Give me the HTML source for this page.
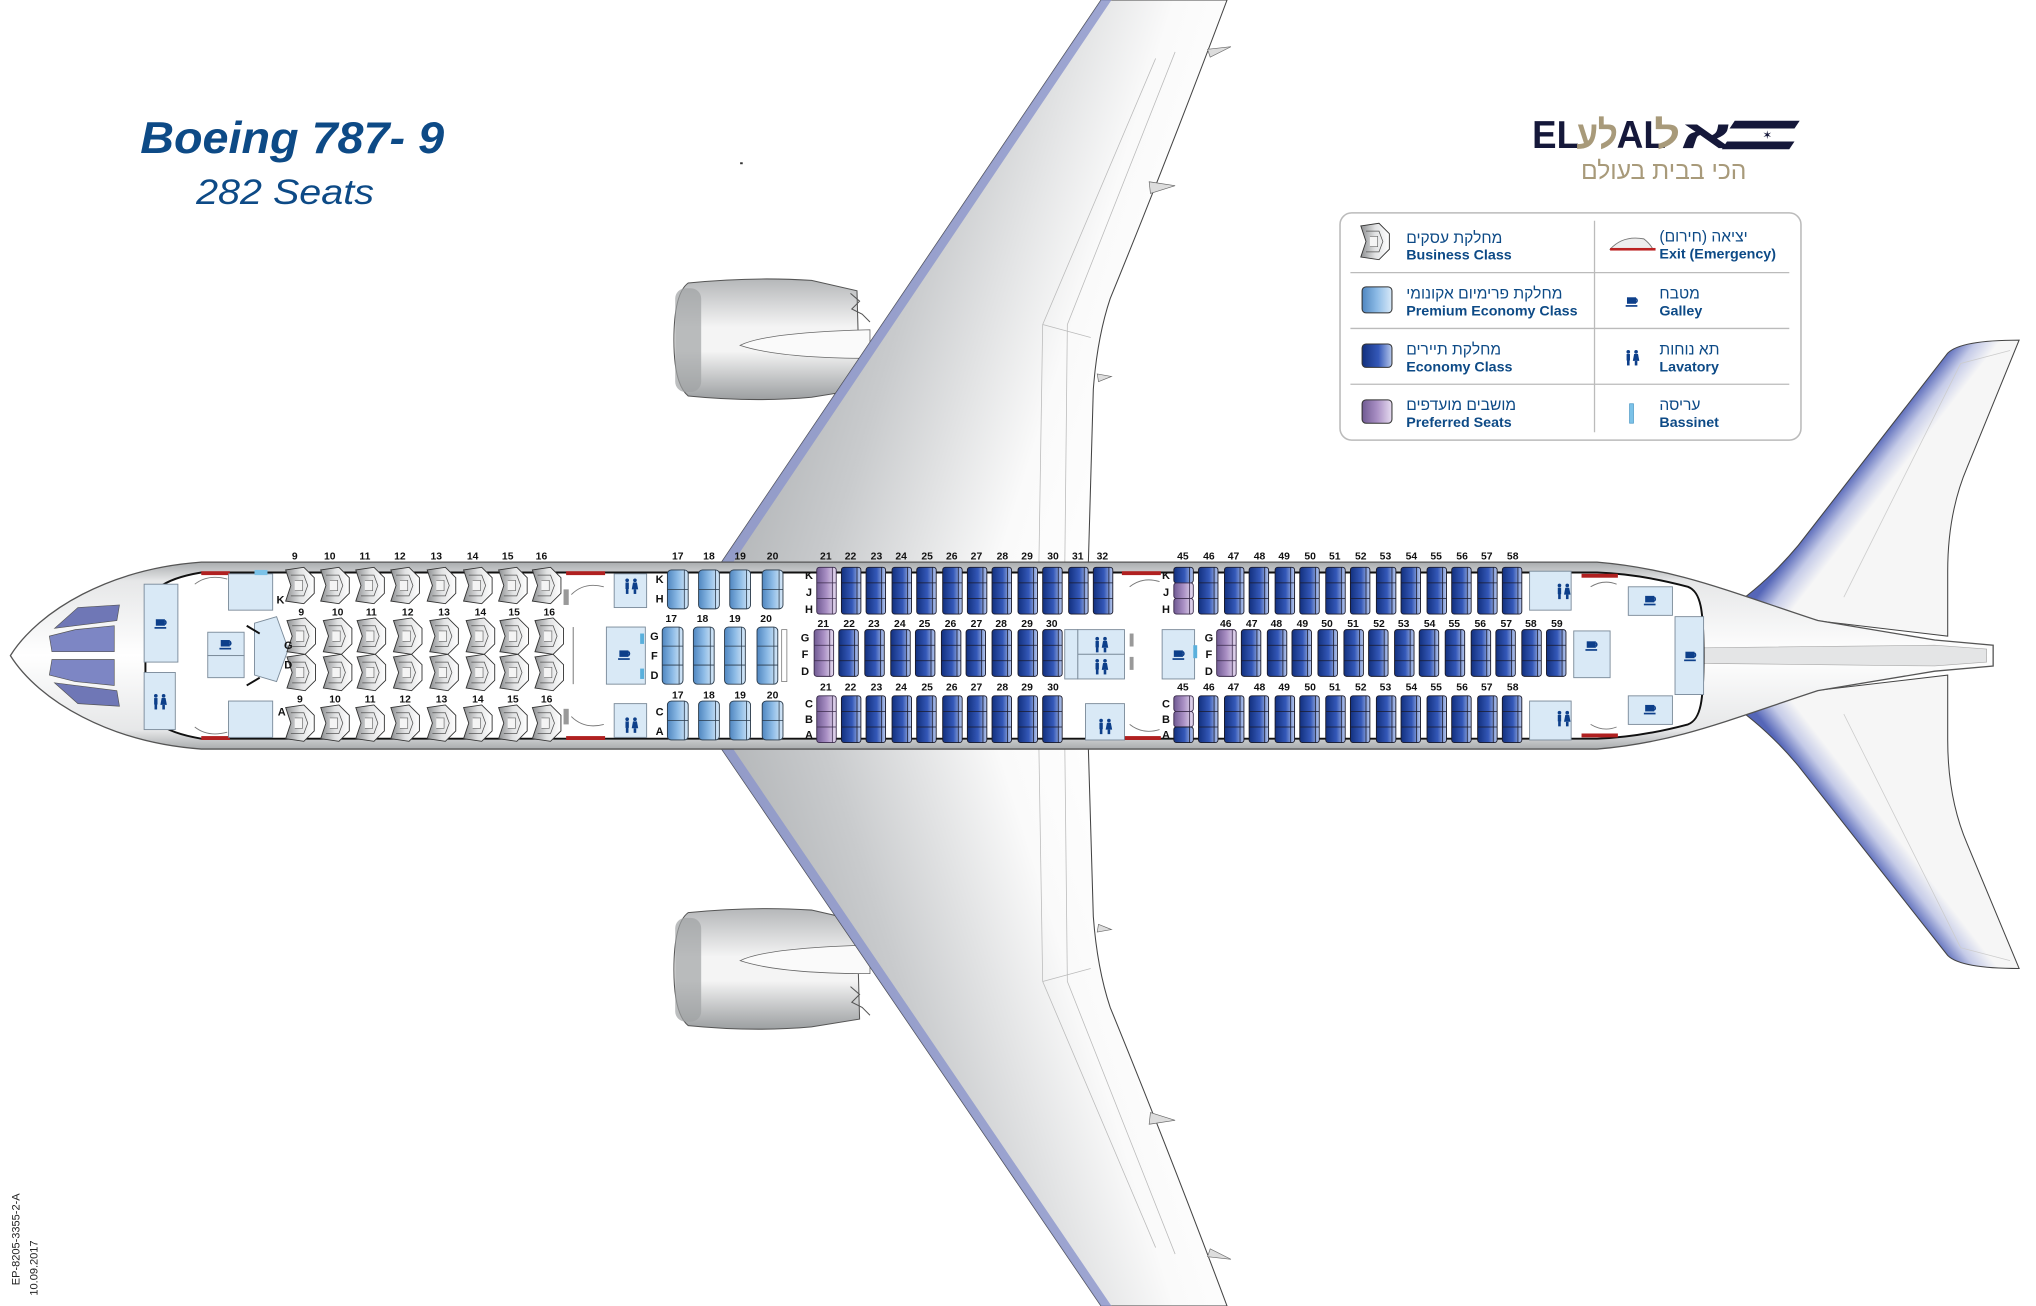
<!DOCTYPE html>
<html><head><meta charset="utf-8"><style>
html,body{margin:0;padding:0;background:#fff;}
svg{display:block;}
text{font-family:"Liberation Sans","DejaVu Sans",sans-serif;}
.n{font-size:8px;font-weight:bold;fill:#111;text-anchor:middle;}
.l{font-size:8.5px;font-weight:bold;fill:#111;text-anchor:middle;}
.lh{font-size:12px;fill:#0d4a86;}
.le{font-size:11px;font-weight:bold;fill:#0d4a86;}
.lg{font-size:30px;font-weight:900;}
</style></head><body>
<svg width="2036" height="1306" viewBox="0 0 1568 1006" preserveAspectRatio="none" xmlns="http://www.w3.org/2000/svg">
<defs>
<linearGradient id="wing" x1="0" y1="0" x2="1" y2="0.35"><stop offset="0" stop-color="#8f9396"/><stop offset="0.5" stop-color="#c9cbcd"/><stop offset="0.8" stop-color="#fafafa"/><stop offset="1" stop-color="#ffffff"/></linearGradient>
<linearGradient id="wing2" x1="0" y1="1" x2="1" y2="0.65"><stop offset="0" stop-color="#8f9396"/><stop offset="0.5" stop-color="#c9cbcd"/><stop offset="0.8" stop-color="#fafafa"/><stop offset="1" stop-color="#ffffff"/></linearGradient>
<linearGradient id="fus" x1="0" y1="0" x2="0" y2="1"><stop offset="0" stop-color="#a9acae"/><stop offset="0.1" stop-color="#e6e7e8"/><stop offset="0.5" stop-color="#ffffff"/><stop offset="0.9" stop-color="#e6e7e8"/><stop offset="1" stop-color="#a9acae"/></linearGradient>
<linearGradient id="eng" x1="0" y1="0" x2="0" y2="1"><stop offset="0" stop-color="#b5b7b9"/><stop offset="0.4" stop-color="#f4f4f4"/><stop offset="0.6" stop-color="#f4f4f4"/><stop offset="1" stop-color="#9c9fa1"/></linearGradient>
<linearGradient id="gB" x1="0" y1="0" x2="1" y2="0"><stop offset="0" stop-color="#12307e"/><stop offset="0.55" stop-color="#3458b8"/><stop offset="1" stop-color="#b7c8ec"/></linearGradient>
<linearGradient id="gP" x1="0" y1="0" x2="1" y2="0"><stop offset="0" stop-color="#6f5a92"/><stop offset="0.5" stop-color="#a98fc4"/><stop offset="1" stop-color="#e6dcf0"/></linearGradient>
<linearGradient id="gL" x1="0" y1="0" x2="1" y2="0"><stop offset="0" stop-color="#4f86c0"/><stop offset="0.5" stop-color="#8dbbe6"/><stop offset="1" stop-color="#d8e9f8"/></linearGradient>
<linearGradient id="gG" x1="0" y1="0" x2="1" y2="0"><stop offset="0" stop-color="#8d8f91"/><stop offset="0.5" stop-color="#e1e2e3"/><stop offset="1" stop-color="#ffffff"/></linearGradient>
<linearGradient id="stab" gradientUnits="userSpaceOnUse" x1="1430" y1="360" x2="1452" y2="377"><stop offset="0" stop-color="#5566b8"/><stop offset="0.5" stop-color="#c5cbe8"/><stop offset="1" stop-color="#f6f6f6"/></linearGradient>
<linearGradient id="stab2" gradientUnits="userSpaceOnUse" x1="1430" y1="650" x2="1452" y2="633"><stop offset="0" stop-color="#5566b8"/><stop offset="0.5" stop-color="#c5cbe8"/><stop offset="1" stop-color="#f6f6f6"/></linearGradient>
<g id="e3"><rect x="0" y="0" width="15" height="36" rx="2" fill="url(#gB)" stroke="#1a1a2a" stroke-width="0.7"/><path d="M0 12H15M0 24H15M12 0V36" stroke="#1a1a2a" stroke-width="0.6" fill="none"/></g>
<g id="p3"><rect x="0" y="0" width="15" height="36" rx="2" fill="url(#gP)" stroke="#3a2a4a" stroke-width="0.7"/><path d="M0 12H15M0 24H15M12 0V36" stroke="#3a2a4a" stroke-width="0.6" fill="none"/></g>
<g id="e1"><rect x="0" y="0" width="15" height="12" rx="2" fill="url(#gB)" stroke="#1a1a2a" stroke-width="0.7"/><path d="M12 0V12" stroke="#1a1a2a" stroke-width="0.6"/></g>
<g id="p1"><rect x="0" y="0" width="15" height="12" rx="2" fill="url(#gP)" stroke="#3a2a4a" stroke-width="0.7"/><path d="M12 0V12" stroke="#3a2a4a" stroke-width="0.6"/></g>
<g id="m2"><rect x="0" y="0" width="16" height="30" rx="3" fill="url(#gL)" stroke="#2a3a4a" stroke-width="0.7"/><path d="M0 15H16M13 0V30" stroke="#2a3a4a" stroke-width="0.6" fill="none"/></g>
<g id="m3"><rect x="0" y="0" width="16" height="44" rx="3" fill="url(#gL)" stroke="#2a3a4a" stroke-width="0.7"/><path d="M0 14.7H16M0 29.3H16M13 0V44" stroke="#2a3a4a" stroke-width="0.6" fill="none"/></g>
<g id="b"><path d="M0 2 L14 0 L22 8 L22 20 L14 28 L0 26 L4 14 Z" fill="url(#gG)" stroke="#333" stroke-width="0.7"/><path d="M4 6 L14 6 L17 14 L14 22 L4 22" fill="none" stroke="#555" stroke-width="0.6"/><path d="M7 10 L13 10 L13 18 L7 18" fill="#f4f4f4" stroke="#666" stroke-width="0.5"/></g>
<g id="cup"><rect x="-4" y="-3" width="7" height="5" fill="#0d3f8a"/><path d="M3 -2 a1.8 1.8 0 0 1 0 3" fill="none" stroke="#0d3f8a" stroke-width="1.2"/><rect x="-5" y="3" width="9" height="1.3" fill="#0d3f8a"/></g>
<g id="lav"><circle cx="-3" cy="-5" r="1.4" fill="#0d3f8a"/><rect x="-4.3" y="-3.3" width="2.6" height="5" fill="#0d3f8a"/><rect x="-4" y="1.5" width="2" height="4" fill="#0d3f8a"/><circle cx="3" cy="-5" r="1.4" fill="#0d3f8a"/><path d="M1.5 -3.3 H4.5 L5.5 2 H0.5Z" fill="#0d3f8a"/><rect x="2" y="2" width="2" height="3.5" fill="#0d3f8a"/></g>
</defs>

<!-- title -->
<text x="108" y="118" font-size="34" font-weight="bold" font-style="italic" fill="#0d4a86" textLength="234" lengthAdjust="spacingAndGlyphs">Boeing 787- 9</text>
<text x="151" y="157" font-size="27" font-style="italic" fill="#0d4a86" textLength="137" lengthAdjust="spacingAndGlyphs">282 Seats</text>

<!-- logo -->
<text class="lg" x="1180" y="114" fill="#15183a" textLength="36" lengthAdjust="spacingAndGlyphs">EL</text>
<text class="lg" x="1214" y="114" fill="#a89a7a" textLength="32" lengthAdjust="spacingAndGlyphs">לע</text>
<text class="lg" x="1245" y="114" fill="#15183a" textLength="38" lengthAdjust="spacingAndGlyphs">AL</text>
<text class="lg" x="1274" y="114" fill="#a89a7a" textLength="20" lengthAdjust="spacingAndGlyphs">ל</text>
<text class="lg" x="1294" y="114" fill="#15183a" textLength="40" lengthAdjust="spacingAndGlyphs">א</text>
<path d="M1336 93 H1386 L1382 99 H1332Z M1330 109 H1382 L1378 115 H1326Z" fill="#15183a"/>
<text x="1361" y="107" font-size="9" fill="#15183a" text-anchor="middle">✶</text>
<text x="1345" y="138" font-size="19" fill="#a89a7a" text-anchor="end">הכי בבית בעולם</text>

<!-- legend -->
<rect x="1032" y="164" width="355" height="175" rx="9" fill="#fff" stroke="#bbb" stroke-width="1.2"/>
<path d="M1228 170V333 M1040 210H1378 M1040 253H1378 M1040 296H1378" stroke="#bbb" stroke-width="1"/>
<use href="#b" x="1048" y="172"/>
<rect x="1049" y="221" width="23" height="20" rx="3" fill="url(#gL)" stroke="#333" stroke-width="0.8"/>
<rect x="1049" y="265" width="23" height="18" rx="3" fill="url(#gB)" stroke="#333" stroke-width="0.8"/>
<rect x="1049" y="308" width="23" height="18" rx="3" fill="url(#gP)" stroke="#333" stroke-width="0.8"/>
<text class="lh" x="1083" y="187">מחלקת עסקים</text><text class="le" x="1083" y="200">Business Class</text>
<text class="lh" x="1083" y="230">מחלקת פרימיום אקונומי</text><text class="le" x="1083" y="243">Premium Economy Class</text>
<text class="lh" x="1083" y="273">מחלקת תיירים</text><text class="le" x="1083" y="286">Economy Class</text>
<text class="lh" x="1083" y="316">מושבים מועדפים</text><text class="le" x="1083" y="329">Preferred Seats</text>
<path d="M1240 192 Q1250 181 1266 184 Q1271 188 1273 192Z" fill="#eee" stroke="#777" stroke-width="0.7"/><rect x="1240" y="191" width="35" height="2" fill="#b22"/>
<use href="#cup" x="1257" y="232"/>
<use href="#lav" x="1257" y="276"/>
<rect x="1255" y="311" width="3" height="15" fill="#7bc2e8" stroke="#3a8fc0" stroke-width="0.5"/>
<text class="lh" x="1278" y="186">יציאה (חירום)</text><text class="le" x="1278" y="199">Exit (Emergency)</text>
<text class="lh" x="1278" y="230">מטבח</text><text class="le" x="1278" y="243">Galley</text>
<text class="lh" x="1278" y="273">תא נוחות</text><text class="le" x="1278" y="286">Lavatory</text>
<text class="lh" x="1278" y="316">עריסה</text><text class="le" x="1278" y="329">Bassinet</text>

<!-- engines -->
<g>
<path d="M530 218 Q580 213 625 216 L660 224 L662 300 L625 306 Q580 310 530 305 Q519 296 519 262 Q519 226 530 218Z" fill="url(#eng)" stroke="#555" stroke-width="0.8"/>
<rect x="520" y="222" width="20" height="80" rx="8" fill="#9fa2a4" opacity="0.7"/>
<path d="M570 266 Q590 256 670 254 L670 276 Q600 276 570 266Z" fill="#fafafa" stroke="#666" stroke-width="0.6"/>
<path d="M655 226 L662 232 L656 238 L664 242 L670 248" fill="none" stroke="#555" stroke-width="0.8"/>
</g>
<g>
<path d="M530 703 Q580 698 625 701 L660 709 L662 785 L625 791 Q580 795 530 790 Q519 781 519 747 Q519 711 530 703Z" fill="url(#eng)" stroke="#555" stroke-width="0.8"/>
<rect x="520" y="707" width="20" height="80" rx="8" fill="#9fa2a4" opacity="0.7"/>
<path d="M570 740 Q590 730 670 728 L670 750 Q600 750 570 740Z" fill="#fafafa" stroke="#666" stroke-width="0.6"/>
<path d="M655 760 L662 766 L656 772 L664 776 L670 782" fill="none" stroke="#555" stroke-width="0.8"/>
</g>

<!-- wings -->
<path d="M551 440 L848 0 L945 0 Q900 120 855 230 Q845 260 842 300 L838 440Z" fill="url(#wing)" stroke="#444" stroke-width="0.8"/>
<path d="M551 440 L848 0 L856 0 L560 440Z" fill="#8b95cc" opacity="0.8"/>
<path d="M800 440 L803 250 L890 45 M820 440 L822 250 L905 40 M803 250 L840 260" fill="none" stroke="#bbb" stroke-width="0.6"/>
<path d="M551 570 L848 1006 L945 1006 Q900 886 855 776 Q845 746 842 706 L838 570Z" fill="url(#wing2)" stroke="#444" stroke-width="0.8"/>
<path d="M551 570 L848 1006 L856 1006 L560 570Z" fill="#8b95cc" opacity="0.8"/>
<path d="M800 570 L803 756 L890 961 M820 570 L822 756 L905 966 M803 756 L840 746" fill="none" stroke="#bbb" stroke-width="0.6"/>
<path d="M930 38 L948 36 L932 44Z M885 140 L905 143 L886 149Z M845 288 L856 290 L846 294Z" fill="#ddd" stroke="#666" stroke-width="0.5"/>
<path d="M930 968 L948 970 L932 962Z M885 866 L905 863 L886 857Z M845 718 L856 716 L846 712Z" fill="#ddd" stroke="#666" stroke-width="0.5"/>

<!-- stabilizers -->
<path d="M1330 470 Q1360 450 1385 420 L1500 272 Q1510 262 1555 262 L1515 360 Q1500 395 1500 440 L1500 490Z" fill="url(#stab)" stroke="#444" stroke-width="0.8"/>
<path d="M1330 540 Q1360 560 1385 590 L1500 736 Q1510 746 1555 746 L1515 650 Q1500 615 1500 570 L1500 520Z" fill="url(#stab2)" stroke="#444" stroke-width="0.8"/>
<path d="M1420 460 L1510 280 L1548 270 M1420 550 L1510 730 L1548 740" fill="none" stroke="#ccc" stroke-width="0.6"/>

<!-- fuselage -->
<path d="M8 505 C30 470 85 438 155 433 L1230 433 C1290 438 1330 455 1400 478 L1490 493 L1535 497 L1535 513 L1490 517 L1400 532 C1330 555 1290 572 1230 577 L155 577 C85 572 30 540 8 505Z" fill="url(#fus)" stroke="#555" stroke-width="1"/>
<path d="M1312 499 L1490 497 L1530 500 L1530 510 L1490 513 L1312 511Z" fill="#e4e5e6" stroke="#aaa" stroke-width="0.5"/>
<!-- cockpit windows -->
<path d="M42 484 L60 468 L92 466 L90 478 L58 482Z M42 526 L60 542 L92 544 L90 532 L58 528Z" fill="#6f77b6" stroke="#555" stroke-width="0.5"/>
<path d="M38 490 L58 485 L88 482 L88 502 L40 502Z M38 520 L58 525 L88 528 L88 508 L40 508Z" fill="#7d86c4" stroke="#555" stroke-width="0.5"/>
<!-- cabin interior -->
<path d="M112 478 C112 455 125 446 155 441 L1230 441 C1260 442 1285 448 1300 452 C1310 456 1312 470 1312 505 C1312 540 1310 554 1300 558 C1285 562 1260 568 1230 569 L155 569 C125 564 112 555 112 532Z" fill="#fff" stroke="#111" stroke-width="1.5"/>

<!-- exits (red) -->
<g fill="#b02020">
<rect x="155" y="440" width="22" height="3"/><rect x="155" y="567" width="22" height="3"/>
<rect x="436" y="440" width="30" height="3"/><rect x="436" y="567" width="30" height="3"/>
<rect x="864" y="440" width="30" height="3"/><rect x="864" y="567" width="30" height="3"/>
<rect x="1218" y="442" width="28" height="3"/><rect x="1218" y="565" width="28" height="3"/>
</g>
<g fill="none" stroke="#777" stroke-width="0.7">
<path d="M150 450 Q160 442 175 446 M440 458 Q450 448 465 452 M870 452 Q880 444 893 448 M1225 452 Q1235 446 1245 450"/>
<path d="M150 560 Q160 568 175 564 M440 552 Q450 562 465 558 M870 558 Q880 566 893 562 M1225 558 Q1235 564 1245 560"/>
</g>

<!-- front galley/lav -->
<g fill="#d9e9f6" stroke="#7a8a99" stroke-width="0.7">
<rect x="111" y="450" width="26" height="60"/><rect x="111" y="518" width="24" height="44"/>
<rect x="176" y="442" width="34" height="28"/><rect x="176" y="540" width="34" height="28"/>
<rect x="160" y="487" width="28" height="18"/><rect x="160" y="505" width="28" height="17"/>
<path d="M196 480 L213 475 L222 500 L213 525 L196 520Z"/>
<rect x="467" y="483" width="30" height="44"/>
<rect x="473" y="442" width="25" height="26"/><rect x="473" y="542" width="25" height="26"/>
<rect x="830" y="485" width="36" height="19"/><rect x="830" y="504" width="36" height="19"/><rect x="820" y="485" width="10" height="38"/>
<rect x="836" y="542" width="30" height="28"/>
<rect x="895" y="485" width="25" height="38"/>
<rect x="1178" y="440" width="32" height="30"/><rect x="1178" y="540" width="32" height="30"/>
<rect x="1212" y="486" width="28" height="36"/>
<rect x="1254" y="452" width="34" height="22"/><rect x="1254" y="536" width="34" height="22"/>
<rect x="1290" y="475" width="22" height="60"/>
</g>
<rect x="196" y="439" width="10" height="4" fill="#7bc2e8"/>
<path d="M190 482 L200 488 M190 528 L200 522" stroke="#111" stroke-width="1.5"/>
<rect x="434" y="454" width="4" height="12" fill="#999"/><rect x="434" y="546" width="4" height="12" fill="#999"/>
<rect x="493" y="488" width="3" height="8" fill="#5ab0dc"/><rect x="493" y="515" width="3" height="8" fill="#5ab0dc"/>
<rect x="870" y="488" width="3" height="10" fill="#999"/><rect x="870" y="506" width="3" height="10" fill="#999"/>
<rect x="919" y="497" width="3" height="10" fill="#5ab0dc"/>
<use href="#cup" x="124" y="480"/><use href="#cup" x="174" y="496"/><use href="#cup" x="481" y="504"/>
<use href="#cup" x="908" y="504"/><use href="#cup" x="1226" y="497"/><use href="#cup" x="1271" y="462"/><use href="#cup" x="1271" y="546"/><use href="#cup" x="1302" y="505"/>
<use href="#lav" x="123" y="541"/><use href="#lav" x="486" y="452"/><use href="#lav" x="486" y="559"/>
<use href="#lav" x="848" y="497"/><use href="#lav" x="848" y="514"/><use href="#lav" x="851" y="560"/>
<use href="#lav" x="1204" y="456"/><use href="#lav" x="1204" y="554"/>

<!-- business seats -->
<g>
<use href="#b" x="220" y="437"/><use href="#b" x="247" y="437"/><use href="#b" x="274" y="437"/><use href="#b" x="301" y="437"/><use href="#b" x="329" y="437"/><use href="#b" x="357" y="437"/><use href="#b" x="384" y="437"/><use href="#b" x="410" y="437"/>
<use href="#b" x="221" y="476"/><use href="#b" x="249" y="476"/><use href="#b" x="275" y="476"/><use href="#b" x="303" y="476"/><use href="#b" x="331" y="476"/><use href="#b" x="359" y="476"/><use href="#b" x="385" y="476"/><use href="#b" x="412" y="476"/>
<use href="#b" x="221" y="504"/><use href="#b" x="249" y="504"/><use href="#b" x="275" y="504"/><use href="#b" x="303" y="504"/><use href="#b" x="331" y="504"/><use href="#b" x="359" y="504"/><use href="#b" x="385" y="504"/><use href="#b" x="412" y="504"/>
<use href="#b" x="220" y="543"/><use href="#b" x="247" y="543"/><use href="#b" x="274" y="543"/><use href="#b" x="301" y="543"/><use href="#b" x="329" y="543"/><use href="#b" x="357" y="543"/><use href="#b" x="384" y="543"/><use href="#b" x="410" y="543"/>
</g>
<g class="n">
<text class="n" x="227" y="431">9</text><text class="n" x="254" y="431">10</text><text class="n" x="281" y="431">11</text><text class="n" x="308" y="431">12</text><text class="n" x="336" y="431">13</text><text class="n" x="364" y="431">14</text><text class="n" x="391" y="431">15</text><text class="n" x="417" y="431">16</text>
<text class="n" x="232" y="474">9</text><text class="n" x="260" y="474">10</text><text class="n" x="286" y="474">11</text><text class="n" x="314" y="474">12</text><text class="n" x="342" y="474">13</text><text class="n" x="370" y="474">14</text><text class="n" x="396" y="474">15</text><text class="n" x="423" y="474">16</text>
<text class="n" x="231" y="541">9</text><text class="n" x="258" y="541">10</text><text class="n" x="285" y="541">11</text><text class="n" x="312" y="541">12</text><text class="n" x="340" y="541">13</text><text class="n" x="368" y="541">14</text><text class="n" x="395" y="541">15</text><text class="n" x="421" y="541">16</text>
</g>
<text class="l" x="216" y="465">K</text><text class="l" x="222" y="500">G</text><text class="l" x="222" y="515">D</text><text class="l" x="217" y="551">A</text>
<rect x="441" y="483" width="1" height="44" fill="#999"/>

<!-- premium seats -->
<use href="#m2" x="514" y="439"/><use href="#m2" x="538" y="439"/><use href="#m2" x="562" y="439"/><use href="#m2" x="587" y="439"/>
<use href="#m3" x="510" y="483"/><use href="#m3" x="534" y="483"/><use href="#m3" x="558" y="483"/><use href="#m3" x="583" y="483"/>
<use href="#m2" x="514" y="540"/><use href="#m2" x="538" y="540"/><use href="#m2" x="562" y="540"/><use href="#m2" x="587" y="540"/>
<rect x="602" y="485" width="4" height="40" fill="none" stroke="#777" stroke-width="0.6"/>
<text class="n" x="522" y="431">17</text><text class="n" x="546" y="431">18</text><text class="n" x="570" y="431">19</text><text class="n" x="595" y="431">20</text>
<text class="n" x="517" y="479">17</text><text class="n" x="541" y="479">18</text><text class="n" x="566" y="479">19</text><text class="n" x="590" y="479">20</text>
<text class="n" x="522" y="538">17</text><text class="n" x="546" y="538">18</text><text class="n" x="570" y="538">19</text><text class="n" x="595" y="538">20</text>
<text class="l" x="508" y="449">K</text><text class="l" x="508" y="464">H</text>
<text class="l" x="504" y="493">G</text><text class="l" x="504" y="508">F</text><text class="l" x="504" y="523">D</text>
<text class="l" x="508" y="551">C</text><text class="l" x="508" y="566">A</text>

<!-- economy forward -->
<use href="#p3" x="629" y="437"/><use href="#e3" x="648" y="437"/><use href="#e3" x="667" y="437"/><use href="#e3" x="687" y="437"/><use href="#e3" x="706" y="437"/><use href="#e3" x="726" y="437"/><use href="#e3" x="745" y="437"/><use href="#e3" x="764" y="437"/><use href="#e3" x="784" y="437"/><use href="#e3" x="803" y="437"/><use href="#e3" x="823" y="437"/><use href="#e3" x="842" y="437"/>
<use href="#p3" x="627" y="485"/><use href="#e3" x="646" y="485"/><use href="#e3" x="666" y="485"/><use href="#e3" x="686" y="485"/><use href="#e3" x="705" y="485"/><use href="#e3" x="725" y="485"/><use href="#e3" x="744" y="485"/><use href="#e3" x="764" y="485"/><use href="#e3" x="784" y="485"/><use href="#e3" x="803" y="485"/>
<use href="#p3" x="629" y="536"/><use href="#e3" x="648" y="536"/><use href="#e3" x="667" y="536"/><use href="#e3" x="687" y="536"/><use href="#e3" x="706" y="536"/><use href="#e3" x="726" y="536"/><use href="#e3" x="745" y="536"/><use href="#e3" x="764" y="536"/><use href="#e3" x="784" y="536"/><use href="#e3" x="803" y="536"/>
<text class="n" x="636" y="431">21</text><text class="n" x="655" y="431">22</text><text class="n" x="675" y="431">23</text><text class="n" x="694" y="431">24</text><text class="n" x="714" y="431">25</text><text class="n" x="733" y="431">26</text><text class="n" x="752" y="431">27</text><text class="n" x="772" y="431">28</text><text class="n" x="791" y="431">29</text><text class="n" x="811" y="431">30</text><text class="n" x="830" y="431">31</text><text class="n" x="849" y="431">32</text>
<text class="n" x="634" y="483">21</text><text class="n" x="654" y="483">22</text><text class="n" x="673" y="483">23</text><text class="n" x="693" y="483">24</text><text class="n" x="712" y="483">25</text><text class="n" x="732" y="483">26</text><text class="n" x="752" y="483">27</text><text class="n" x="771" y="483">28</text><text class="n" x="791" y="483">29</text><text class="n" x="810" y="483">30</text>
<text class="n" x="636" y="532">21</text><text class="n" x="655" y="532">22</text><text class="n" x="675" y="532">23</text><text class="n" x="694" y="532">24</text><text class="n" x="714" y="532">25</text><text class="n" x="733" y="532">26</text><text class="n" x="752" y="532">27</text><text class="n" x="772" y="532">28</text><text class="n" x="791" y="532">29</text><text class="n" x="811" y="532">30</text>
<text class="l" x="623" y="446">K</text><text class="l" x="623" y="459">J</text><text class="l" x="623" y="472">H</text>
<text class="l" x="620" y="494">G</text><text class="l" x="620" y="507">F</text><text class="l" x="620" y="520">D</text>
<text class="l" x="623" y="545">C</text><text class="l" x="623" y="557">B</text><text class="l" x="623" y="569">A</text>

<!-- economy rear -->
<use href="#e1" x="904" y="437"/><use href="#p1" x="904" y="449"/><use href="#p1" x="904" y="461"/>
<use href="#e3" x="923" y="437"/><use href="#e3" x="943" y="437"/><use href="#e3" x="962" y="437"/><use href="#e3" x="982" y="437"/><use href="#e3" x="1001" y="437"/><use href="#e3" x="1021" y="437"/><use href="#e3" x="1040" y="437"/><use href="#e3" x="1060" y="437"/><use href="#e3" x="1079" y="437"/><use href="#e3" x="1099" y="437"/><use href="#e3" x="1118" y="437"/><use href="#e3" x="1138" y="437"/><use href="#e3" x="1157" y="437"/>
<use href="#p3" x="937" y="485"/><use href="#e3" x="956" y="485"/><use href="#e3" x="976" y="485"/><use href="#e3" x="995" y="485"/><use href="#e3" x="1015" y="485"/><use href="#e3" x="1035" y="485"/><use href="#e3" x="1054" y="485"/><use href="#e3" x="1074" y="485"/><use href="#e3" x="1093" y="485"/><use href="#e3" x="1113" y="485"/><use href="#e3" x="1133" y="485"/><use href="#e3" x="1152" y="485"/><use href="#e3" x="1172" y="485"/><use href="#e3" x="1191" y="485"/>
<use href="#p1" x="904" y="536"/><use href="#p1" x="904" y="548"/><use href="#e1" x="904" y="560"/>
<use href="#e3" x="923" y="536"/><use href="#e3" x="943" y="536"/><use href="#e3" x="962" y="536"/><use href="#e3" x="982" y="536"/><use href="#e3" x="1001" y="536"/><use href="#e3" x="1021" y="536"/><use href="#e3" x="1040" y="536"/><use href="#e3" x="1060" y="536"/><use href="#e3" x="1079" y="536"/><use href="#e3" x="1099" y="536"/><use href="#e3" x="1118" y="536"/><use href="#e3" x="1138" y="536"/><use href="#e3" x="1157" y="536"/>
<text class="n" x="911" y="431">45</text><text class="n" x="931" y="431">46</text><text class="n" x="950" y="431">47</text><text class="n" x="970" y="431">48</text><text class="n" x="989" y="431">49</text><text class="n" x="1009" y="431">50</text><text class="n" x="1028" y="431">51</text><text class="n" x="1048" y="431">52</text><text class="n" x="1067" y="431">53</text><text class="n" x="1087" y="431">54</text><text class="n" x="1106" y="431">55</text><text class="n" x="1126" y="431">56</text><text class="n" x="1145" y="431">57</text><text class="n" x="1165" y="431">58</text>
<text class="n" x="944" y="483">46</text><text class="n" x="964" y="483">47</text><text class="n" x="983" y="483">48</text><text class="n" x="1003" y="483">49</text><text class="n" x="1022" y="483">50</text><text class="n" x="1042" y="483">51</text><text class="n" x="1062" y="483">52</text><text class="n" x="1081" y="483">53</text><text class="n" x="1101" y="483">54</text><text class="n" x="1120" y="483">55</text><text class="n" x="1140" y="483">56</text><text class="n" x="1160" y="483">57</text><text class="n" x="1179" y="483">58</text><text class="n" x="1199" y="483">59</text>
<text class="n" x="911" y="532">45</text><text class="n" x="931" y="532">46</text><text class="n" x="950" y="532">47</text><text class="n" x="970" y="532">48</text><text class="n" x="989" y="532">49</text><text class="n" x="1009" y="532">50</text><text class="n" x="1028" y="532">51</text><text class="n" x="1048" y="532">52</text><text class="n" x="1067" y="532">53</text><text class="n" x="1087" y="532">54</text><text class="n" x="1106" y="532">55</text><text class="n" x="1126" y="532">56</text><text class="n" x="1145" y="532">57</text><text class="n" x="1165" y="532">58</text>
<text class="l" x="898" y="446">K</text><text class="l" x="898" y="459">J</text><text class="l" x="898" y="472">H</text>
<text class="l" x="931" y="494">G</text><text class="l" x="931" y="507">F</text><text class="l" x="931" y="520">D</text>
<text class="l" x="898" y="545">C</text><text class="l" x="898" y="557">B</text><text class="l" x="898" y="569">A</text>

<!-- small mark & footer -->
<rect x="570" y="125" width="2" height="1.5" fill="#333"/>
<text x="0" y="0" font-size="8.5" fill="#222" transform="translate(15 990) rotate(-90)">EP-8205-3355-2-A</text>
<text x="0" y="0" font-size="8.5" fill="#222" transform="translate(29 998) rotate(-90)">10.09.2017</text>
</svg>
</body></html>
